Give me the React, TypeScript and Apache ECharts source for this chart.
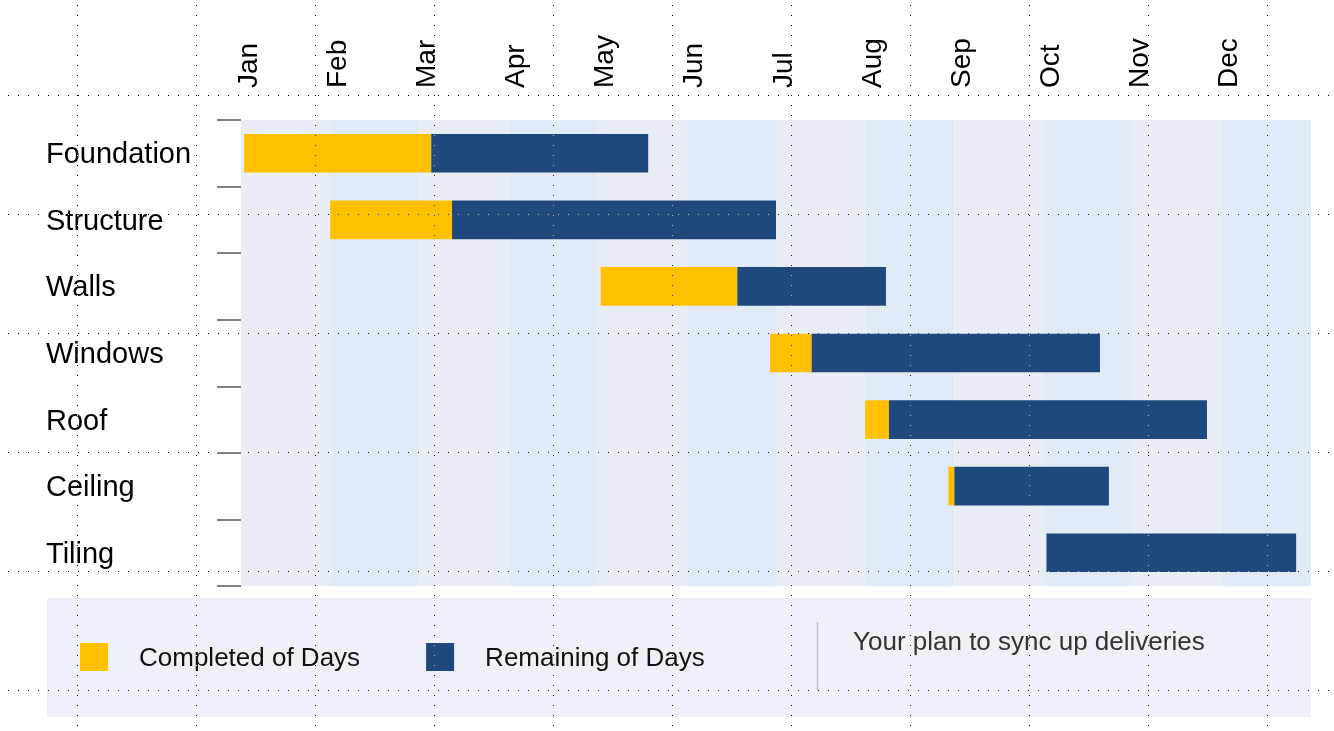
import React, { useEffect, useRef } from "react";
import * as echarts from "echarts";

const months = ["Jan", "Feb", "Mar", "Apr", "May", "Jun", "Jul", "Aug", "Sep", "Oct", "Nov", "Dec"];
const tasks = ["Foundation", "Structure", "Walls", "Windows", "Roof", "Ceiling", "Tiling"];
// days from Jan 1 (30-day months)
const startDay = [1, 30, 121, 178, 210, 238, 271];
const completedDays = [63, 41, 46, 14, 8, 2, 0];
const remainingDays = [73, 109, 50, 97, 107, 52, 84];

const FONT = "'Liberation Sans', Arial, Helvetica, sans-serif";
const YELLOW = "#FFC000";
const BLUE = "#1F497D";

const dotRows = [95, 214, 333, 452, 571, 690];
const dotCols = [77, 196, 315, 434, 553, 672, 791, 910, 1029, 1148, 1267];

export default function App() {
  const ref = useRef<HTMLDivElement>(null);
  useEffect(() => {
    if (!ref.current) return;
    const chart = echarts.init(ref.current, undefined, { renderer: "svg" });
    chart.setOption({
      animation: false,
      backgroundColor: "#ffffff",
      textStyle: { fontFamily: FONT },
      grid: { left: 241, right: 23, top: 120, bottom: 145, containLabel: false },
      xAxis: {
        type: "value",
        position: "top",
        min: 0,
        max: 360,
        interval: 30,
        axisLine: { show: false },
        axisTick: { show: false },
        splitLine: { show: false },
        splitArea: { show: true, areaStyle: { color: ["#E9EEF6", "#E1EBF7"] } },
        axisLabel: {
          rotate: -90,
          margin: 32,
          fontSize: 28,
          color: "#000",
          fontFamily: FONT,
          verticalAlign: "top",
          lineHeight: 12,
          showMaxLabel: false,
          formatter: (v: number) => months[Math.round(v / 30)] ?? "",
        },
      },
      yAxis: {
        type: "category",
        inverse: true,
        data: tasks,
        axisLine: { show: false },
        axisTick: { show: true, length: 24, lineStyle: { color: "#595959", width: 1.5 } },
        axisLabel: { align: "left", margin: 195, fontSize: 29, color: "#000", fontFamily: FONT },
        splitLine: { show: false },
      },
      legend: {
        left: 80,
        top: 643,
        padding: 0,
        data: ["Completed of Days", "Remaining of Days"],
        icon: "rect",
        itemWidth: 28,
        itemHeight: 28,
        itemGap: 66,
        textStyle: { fontSize: 26, color: "#111", fontFamily: FONT, padding: [0, 0, 0, 26] },
      },
      graphic: [
        { type: "rect", z: -10, shape: { x: 47, y: 598, width: 1264, height: 119 }, style: { fill: "#EEF2F8" } },
        { type: "line", z: 5, shape: { x1: 817.5, y1: 622, x2: 817.5, y2: 690 }, style: { stroke: "#BFBFBF", lineWidth: 1.5 } },
        {
          type: "text",
          z: 5,
          x: 853,
          y: 641,
          style: { text: "Your plan to sync up deliveries", fontSize: 26, fill: "#333", fontFamily: FONT, verticalAlign: "middle" },
        },
      ],
      series: [
        {
          name: "start",
          type: "bar",
          stack: "g",
          barWidth: "58%",
          itemStyle: { color: "transparent" },
          emphasis: { disabled: true },
          data: startDay,
        },
        {
          name: "Completed of Days",
          type: "bar",
          stack: "g",
          barWidth: "58%",
          itemStyle: { color: YELLOW },
          data: completedDays,
        },
        {
          name: "Remaining of Days",
          type: "bar",
          stack: "g",
          barWidth: "58%",
          itemStyle: { color: BLUE },
          data: remainingDays,
        },
      ],
    });
    return () => chart.dispose();
  }, []);

  return (
    <div style={{ position: "fixed", left: 0, top: 0, width: 1334, height: 731, overflow: "hidden", background: "#fff" }}>
      <div ref={ref} style={{ position: "absolute", left: 0, top: 0, width: 1334, height: 731 }} />
      <svg
        width={1334}
        height={731}
        style={{ position: "absolute", left: 0, top: 0, pointerEvents: "none", mixBlendMode: "difference" }}
      >
        <defs>
          <pattern id="dotH" x={8} y={0} width={10} height={1} patternUnits="userSpaceOnUse">
            <rect width={1} height={1} fill="#fff" />
          </pattern>
          <pattern id="dotV" x={0} y={5} width={1} height={10} patternUnits="userSpaceOnUse">
            <rect width={1} height={1} fill="#fff" />
          </pattern>
        </defs>
        {dotRows.map((y) => (
          <rect key={"r" + y} x={0} y={y} width={1334} height={1} fill="url(#dotH)" />
        ))}
        {dotCols.map((x) => (
          <rect key={"c" + x} x={x} y={0} width={1} height={731} fill="url(#dotV)" />
        ))}
      </svg>
    </div>
  );
}
